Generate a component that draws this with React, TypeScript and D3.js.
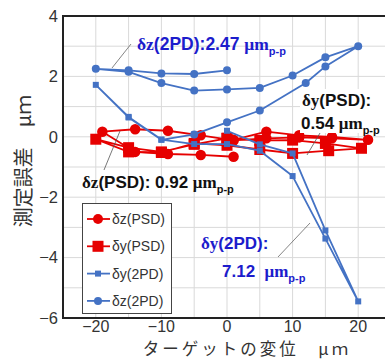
import * as d3 from "d3";

// δz(PSD) — red circles
const dzPsdX = [1, 6, 11, 16, 21.5, 16, 11, 6, 1, -4, -9, -14, -19, -14, -9, -4, 1];
const dzPsdY = [-0.1, 0.17, 0.05, 0.0, -0.1, -0.05, -0.02, -0.05, -0.12, 0.05, 0.2, 0.25, 0.17, -0.5, -0.57, -0.6, -0.66];

// δy(PSD) — red squares
const dyPsdX = [0, 5, 10, 15, 20.5, 15.5, 10, 5, 0, -5, -10, -15, -20, -15, -10, -5, 0];
const dyPsdY = [-0.05, -0.12, -0.11, -0.22, -0.38, -0.46, -0.55, -0.42, -0.28, -0.22, -0.52, -0.5, -0.08, -0.36, -0.5, -0.25, -0.05];

// δy(2PD) — blue small squares
const dy2pdX = [0, 5, 10, 15, 20, 15, 10, 5, 0, -5, -10, -15, -20, -15, -10, -5];
const dy2pdY = [0.2, -0.25, -0.55, -3.1, -5.45, -3.37, -1.3, -0.46, -0.24, -0.24, -0.09, 0.66, 1.72, 0.64, -0.1, 0.08];

// δz(2PD) — blue circles
const dz2pdX = [-5, 0, 5, 12, 15, 20, 15, 10, 5, 0, -5, -10, -15, -20, -15, -10, -5, 0];
const dz2pdY = [0.08, 0.48, 0.87, 1.78, 2.33, 3.0, 2.63, 2.03, 1.62, 1.57, 1.53, 1.78, 2.15, 2.25, 2.2, 2.1, 2.08, 2.2];

const xTicks = [-20, -10, 0, 10, 20];
const yTicks = [-6, -4, -2, 0, 2, 4];
const legendNames = ["δz(PSD)", "δy(PSD)", "δy(2PD)", "δz(2PD)"];

const RED = "#e60000";
const BLUE = "#4472c4";
const NOTE_BLUE = "#1c1ccc";
const SANS = "'Liberation Sans', Arial, sans-serif";
const SERIF = "'Liberation Serif', 'Times New Roman', serif";
const CJK = "'Noto Sans CJK JP', sans-serif";

const W = 385;
const H = 360;

const x = d3.scaleLinear().domain([-25, 25]).range([63, 391]);
const y = d3.scaleLinear().domain([-6, 4]).range([318, 16]);

const zip = (xs: number[], ys: number[]) => xs.map((v, i) => [v, ys[i]] as [number, number]);
const line = d3
  .line<[number, number]>()
  .x((d) => x(d[0]))
  .y((d) => y(d[1]));

type Kind = "circle" | "square";

function Series({ pts, color, kind, size, width }: { pts: [number, number][]; color: string; kind: Kind; size: number; width: number }) {
  return (
    <g>
      <path d={line(pts) ?? ""} fill="none" stroke={color} strokeWidth={width} strokeLinejoin="round" />
      {pts.map((p, i) =>
        kind === "circle" ? (
          <circle key={i} cx={x(p[0])} cy={y(p[1])} r={size / 2} fill={color} />
        ) : (
          <rect key={i} x={x(p[0]) - size / 2} y={y(p[1]) - size / 2} width={size} height={size} fill={color} />
        )
      )}
    </g>
  );
}

const legendStyle: { color: string; kind: Kind; size: number }[] = [
  { color: RED, kind: "circle", size: 10 },
  { color: RED, kind: "square", size: 11 },
  { color: BLUE, kind: "square", size: 6 },
  { color: BLUE, kind: "circle", size: 8 },
];

export default function App() {
  const gridX = d3.range(-25, 26, 5);
  const gridY = d3.range(-6, 5, 1);
  return (
    <svg width={W} height={H} style={{ position: "absolute", left: 0, top: 0, background: "#fff" }}>
      {/* grid */}
      {gridX.map((v) => (
        <line key={"gx" + v} x1={x(v)} x2={x(v)} y1={y(4)} y2={y(-6)} stroke="#d9d9d9" strokeWidth={1} />
      ))}
      {gridY.map((v) => (
        <line key={"gy" + v} x1={x(-25)} x2={x(25)} y1={y(v)} y2={y(v)} stroke="#d9d9d9" strokeWidth={1} />
      ))}

      {/* series */}
      <Series pts={zip(dzPsdX, dzPsdY)} color={RED} kind="circle" size={10.5} width={1.8} />
      <Series pts={zip(dyPsdX, dyPsdY)} color={RED} kind="square" size={11} width={1.8} />
      <Series pts={zip(dy2pdX, dy2pdY)} color={BLUE} kind="square" size={6} width={1.8} />
      <Series pts={zip(dz2pdX, dz2pdY)} color={BLUE} kind="circle" size={8} width={1.8} />

      {/* frame */}
      <path d={`M${W},${y(4)}H${x(-25)}V${y(-6)}H${W}`} fill="none" stroke="#222" strokeWidth={2} />

      {/* tick labels */}
      {yTicks.map((v) => (
        <text key={"yt" + v} x={58} y={y(v)} dy="0.35em" textAnchor="end" fontFamily={SANS} fontSize={16.5} fill="#333">
          {v < 0 ? "−" + Math.abs(v) : v}
        </text>
      ))}
      {xTicks.map((v) => (
        <text key={"xt" + v} x={x(v)} y={332} textAnchor="middle" fontFamily={SANS} fontSize={16} fill="#333">
          {v < 0 ? "−" + Math.abs(v) : v}
        </text>
      ))}

      {/* axis titles */}
      <text x={247} y={355} textAnchor="middle" fontFamily={CJK} fontSize={16.5} letterSpacing={3} fill="#333">
        ターゲットの変位　μｍ
      </text>
      <text transform="translate(31,161) rotate(-90)" textAnchor="middle" fontFamily={CJK} fontSize={20} fill="#333">
        測定誤差　μｍ
      </text>

      {/* annotations */}
      <line x1={131} y1={44} x2={112} y2={68} stroke="#666" strokeWidth={0.8} />
      <text x={137} y={50} fontFamily={SANS} fontWeight="bold" fontSize={17.5} fill={NOTE_BLUE}>
        <tspan fontFamily={SERIF}>δz</tspan>(2PD):2.47 <tspan fontFamily={SERIF}>μm</tspan>
        <tspan fontSize={11} dy={5}>p-p</tspan>
      </text>

      <line x1={320} y1={133} x2={307} y2={155} stroke="#555" strokeWidth={0.8} />
      <rect x={300} y={89} width={90} height={44} fill="#fff" />
      <text x={302} y={106} fontFamily={SANS} fontWeight="bold" fontSize={17} fill="#111">
        <tspan fontFamily={SERIF}>δy</tspan>(PSD):
      </text>
      <text x={301} y={129} fontFamily={SANS} fontWeight="bold" fontSize={17} fill="#111">
        0.54 <tspan fontFamily={SERIF}>μm</tspan>
        <tspan fontSize={11} dy={5}>p-p</tspan>
      </text>

      <line x1={104} y1={170} x2={120} y2={131} stroke="#555" strokeWidth={0.8} />
      <text x={82} y={188} fontFamily={SANS} fontWeight="bold" fontSize={17} fill="#111">
        <tspan fontFamily={SERIF}>δz</tspan>(PSD): 0.92 <tspan fontFamily={SERIF}>μm</tspan>
        <tspan fontSize={11} dy={5}>p-p</tspan>
      </text>

      <line x1={278} y1={257} x2={310} y2={223} stroke="#666" strokeWidth={0.8} />
      <text x={201} y={249} fontFamily={SANS} fontWeight="bold" fontSize={17} fill={NOTE_BLUE}>
        <tspan fontFamily={SERIF}>δy</tspan>(2PD):
      </text>
      <text x={222} y={277} fontFamily={SANS} fontWeight="bold" fontSize={17} fill={NOTE_BLUE} style={{ whiteSpace: "pre" }}>
        {"7.12  "}
        <tspan fontFamily={SERIF}>μm</tspan>
        <tspan fontSize={11} dy={5}>p-p</tspan>
      </text>

      {/* legend */}
      <rect x={82.5} y={203.5} width={89} height={110} fill="#fff" stroke="#444" strokeWidth={1} />
      {legendNames.map((name, i) => {
        const ly = 219 + i * 27.3;
        const s = legendStyle[i];
        return (
          <g key={name}>
            <line x1={87} x2={110} y1={ly} y2={ly} stroke={s.color} strokeWidth={1.8} />
            {s.kind === "circle" ? (
              <circle cx={98} cy={ly} r={s.size / 2} fill={s.color} />
            ) : (
              <rect x={98 - s.size / 2} y={ly - s.size / 2} width={s.size} height={s.size} fill={s.color} />
            )}
            <text x={112} y={ly} dy="0.35em" fontFamily={SANS} fontSize={14} fill="#333">
              {name}
            </text>
          </g>
        );
      })}
    </svg>
  );
}
